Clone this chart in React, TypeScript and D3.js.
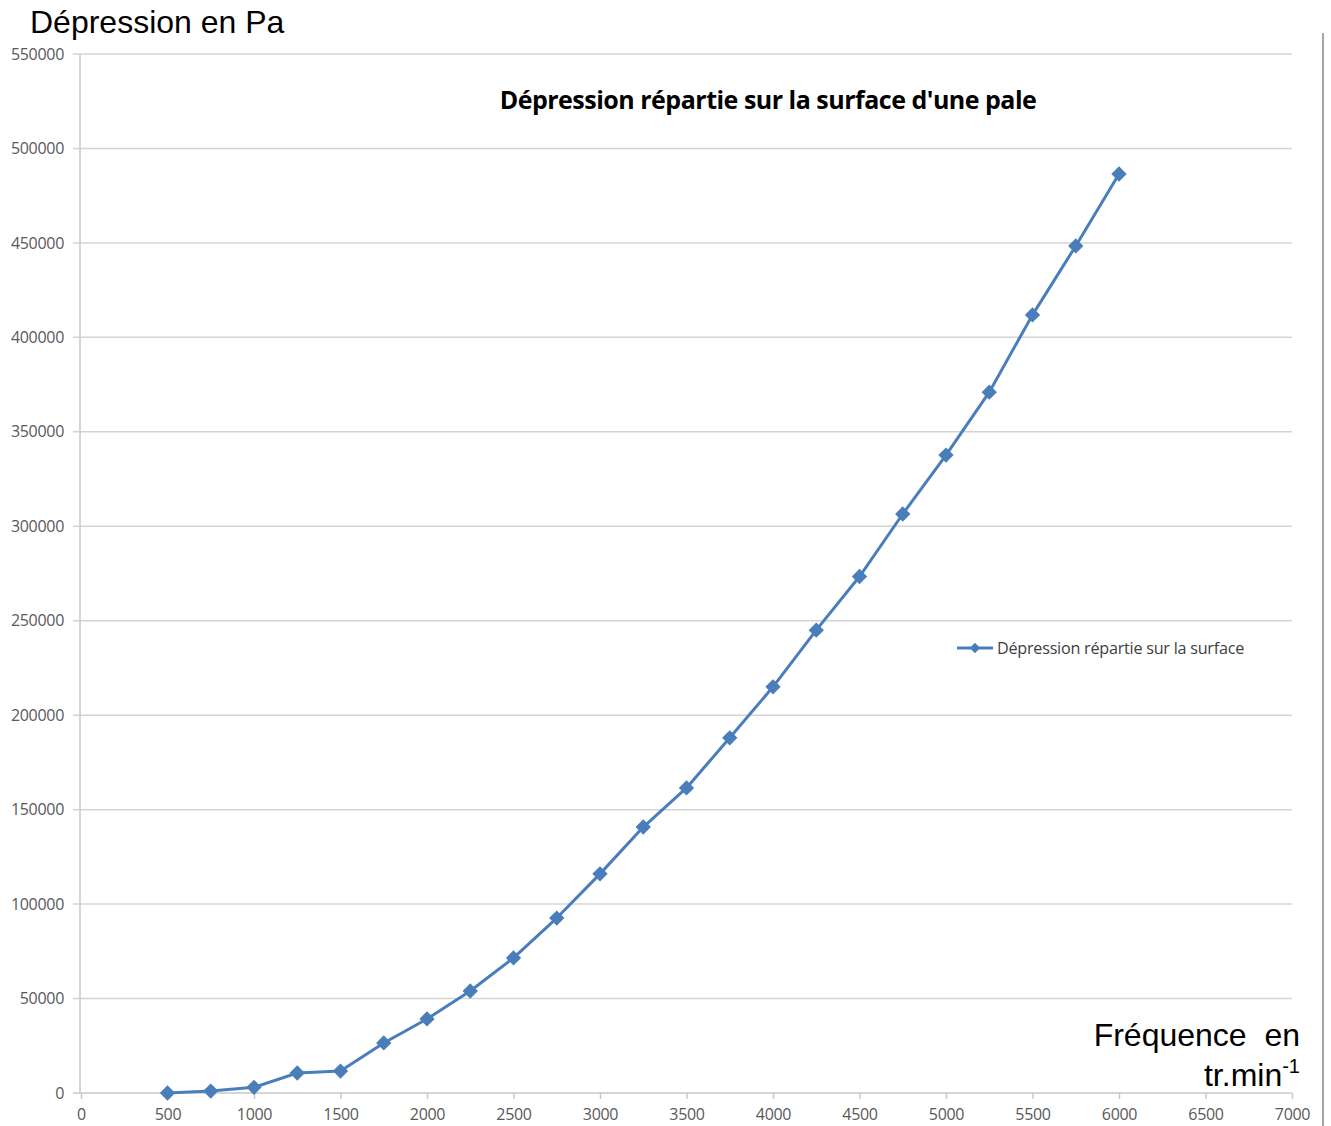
import React, { useEffect, useRef } from "react";
import * as d3 from "d3";

// vitesse de rotation (tr/min)
const frequences = [500, 750, 1000, 1250, 1500, 1750, 2000, 2250, 2500, 2750, 3000, 3250, 3500, 3750, 4000, 4250, 4500, 4750, 5000, 5250, 5500, 5750, 6000];
// dépression (Pa)
const depressions = [0, 1000, 3000, 10600, 11600, 26500, 39200, 54000, 71500, 92600, 116000, 140800, 161500, 188000, 215000, 245000, 273400, 306500, 337700, 371000, 411900, 448400, 486500];

const xTicks = d3.range(0, 7001, 500);
const yTicks = d3.range(0, 550001, 50000);

const title = "Dépression répartie sur la surface d'une pale";
const legendLabel = "Dépression répartie sur la surface";

const App = () => {
  const ref = useRef<SVGSVGElement>(null);

  useEffect(() => {
    const svg = d3.select(ref.current);
    svg.selectAll("*").remove();

    const width = 1331;
    const height = 1126;
    const left = 81, right = 1292, top = 54, bottom = 1093;
    const blue = "#4a7ebb";

    const x = d3.scaleLinear().domain([0, 7000]).range([left, right]);
    const y = d3.scaleLinear().domain([0, 550000]).range([bottom, top]);

    svg.attr("width", width).attr("height", height);

    // grille horizontale
    svg.append("g")
      .selectAll("line")
      .data(yTicks.filter(d => d > 0))
      .join("line")
      .attr("x1", left - 8)
      .attr("x2", right)
      .attr("y1", d => y(d))
      .attr("y2", d => y(d))
      .attr("stroke", "#d4d4d4")
      .attr("stroke-width", 1.5);

    // axe Y
    svg.append("line")
      .attr("x1", left - 1).attr("x2", left - 1)
      .attr("y1", top).attr("y2", bottom)
      .attr("stroke", "#c8c8c8").attr("stroke-width", 1.5);

    svg.append("g")
      .style("font", "16px 'Open Sans', sans-serif")
      .attr("fill", "#595959")
      .selectAll("text")
      .data(yTicks)
      .join("text")
      .attr("x", 64)
      .attr("y", d => y(d))
      .attr("dy", "0.35em")
      .attr("text-anchor", "end")
      .style("letter-spacing", "-0.3px")
      .text(d => d);

    // axe X
    svg.append("line")
      .attr("x1", left - 8).attr("x2", right)
      .attr("y1", bottom).attr("y2", bottom)
      .attr("stroke", "#c8c8c8").attr("stroke-width", 1.5);

    const xAxis = d3.axisBottom(x).tickValues(xTicks).tickSize(6).tickFormat(d => String(d));
    svg.append("g")
      .attr("transform", `translate(0,${bottom})`)
      .call(xAxis)
      .call(g => g.select(".domain").remove())
      .call(g => g.selectAll(".tick line").attr("stroke", "#c8c8c8").attr("stroke-width", 1.5))
      .call(g => g.selectAll(".tick text")
        .attr("fill", "#595959")
        .attr("y", 16)
        .style("font", "16px 'Open Sans', sans-serif")
        .style("letter-spacing", "-0.3px"));

    // courbe
    const data = frequences.map((f, i) => ({ f, p: depressions[i] }));
    const line = d3.line<{ f: number; p: number }>().x(d => x(d.f)).y(d => y(d.p));
    svg.append("path")
      .datum(data)
      .attr("d", line)
      .attr("fill", "none")
      .attr("stroke", blue)
      .attr("stroke-width", 3)
      .attr("stroke-linejoin", "round");

    const diamond = d3.symbol().type(d3.symbolDiamond2).size(150);
    svg.append("g")
      .selectAll("path")
      .data(data)
      .join("path")
      .attr("transform", d => `translate(${x(d.f)},${y(d.p)})`)
      .attr("d", diamond)
      .attr("fill", blue);

    // titre
    svg.append("text")
      .attr("x", 768)
      .attr("y", 109)
      .attr("text-anchor", "middle")
      .style("font", "bold 25px 'Open Sans', sans-serif")
      .style("letter-spacing", "-0.5px")
      .attr("fill", "#000")
      .text(title);

    // légende
    svg.append("line")
      .attr("x1", 957).attr("x2", 993)
      .attr("y1", 648).attr("y2", 648)
      .attr("stroke", blue).attr("stroke-width", 3);
    svg.append("path")
      .attr("transform", "translate(975,648)")
      .attr("d", d3.symbol().type(d3.symbolDiamond2).size(70))
      .attr("fill", blue);
    svg.append("text")
      .attr("x", 997)
      .attr("y", 654)
      .style("font", "16.2px 'Open Sans', sans-serif")
      .style("letter-spacing", "-0.25px")
      .attr("fill", "#404040")
      .text(legendLabel);

    // titres des axes
    svg.append("text")
      .attr("x", 30)
      .attr("y", 33)
      .style("font", "32px 'Liberation Sans', Arial, sans-serif")
      .attr("fill", "#000")
      .text("Dépression en Pa");

    svg.append("text")
      .attr("x", 1300)
      .attr("y", 1046)
      .attr("text-anchor", "end")
      .style("font", "32px 'Liberation Sans', Arial, sans-serif")
      .style("white-space", "pre")
      .attr("fill", "#000")
      .text("Fréquence  en");

    const unit = svg.append("text")
      .attr("x", 1300)
      .attr("y", 1086)
      .attr("text-anchor", "end")
      .style("font", "32px 'Liberation Sans', Arial, sans-serif")
      .attr("fill", "#000");
    unit.append("tspan").text("tr.min");
    unit.append("tspan").attr("dy", -13).style("font-size", "20px").text("-1");

    // bordure droite
    svg.append("line")
      .attr("x1", 1323).attr("x2", 1323)
      .attr("y1", 33).attr("y2", height)
      .attr("stroke", "#a6a6a6").attr("stroke-width", 2);
  }, []);

  return (
    <div style={{ position: "absolute", left: 0, top: 0 }}>
      <svg ref={ref} style={{ display: "block", background: "#fff" }} />
    </div>
  );
};

export default App;
